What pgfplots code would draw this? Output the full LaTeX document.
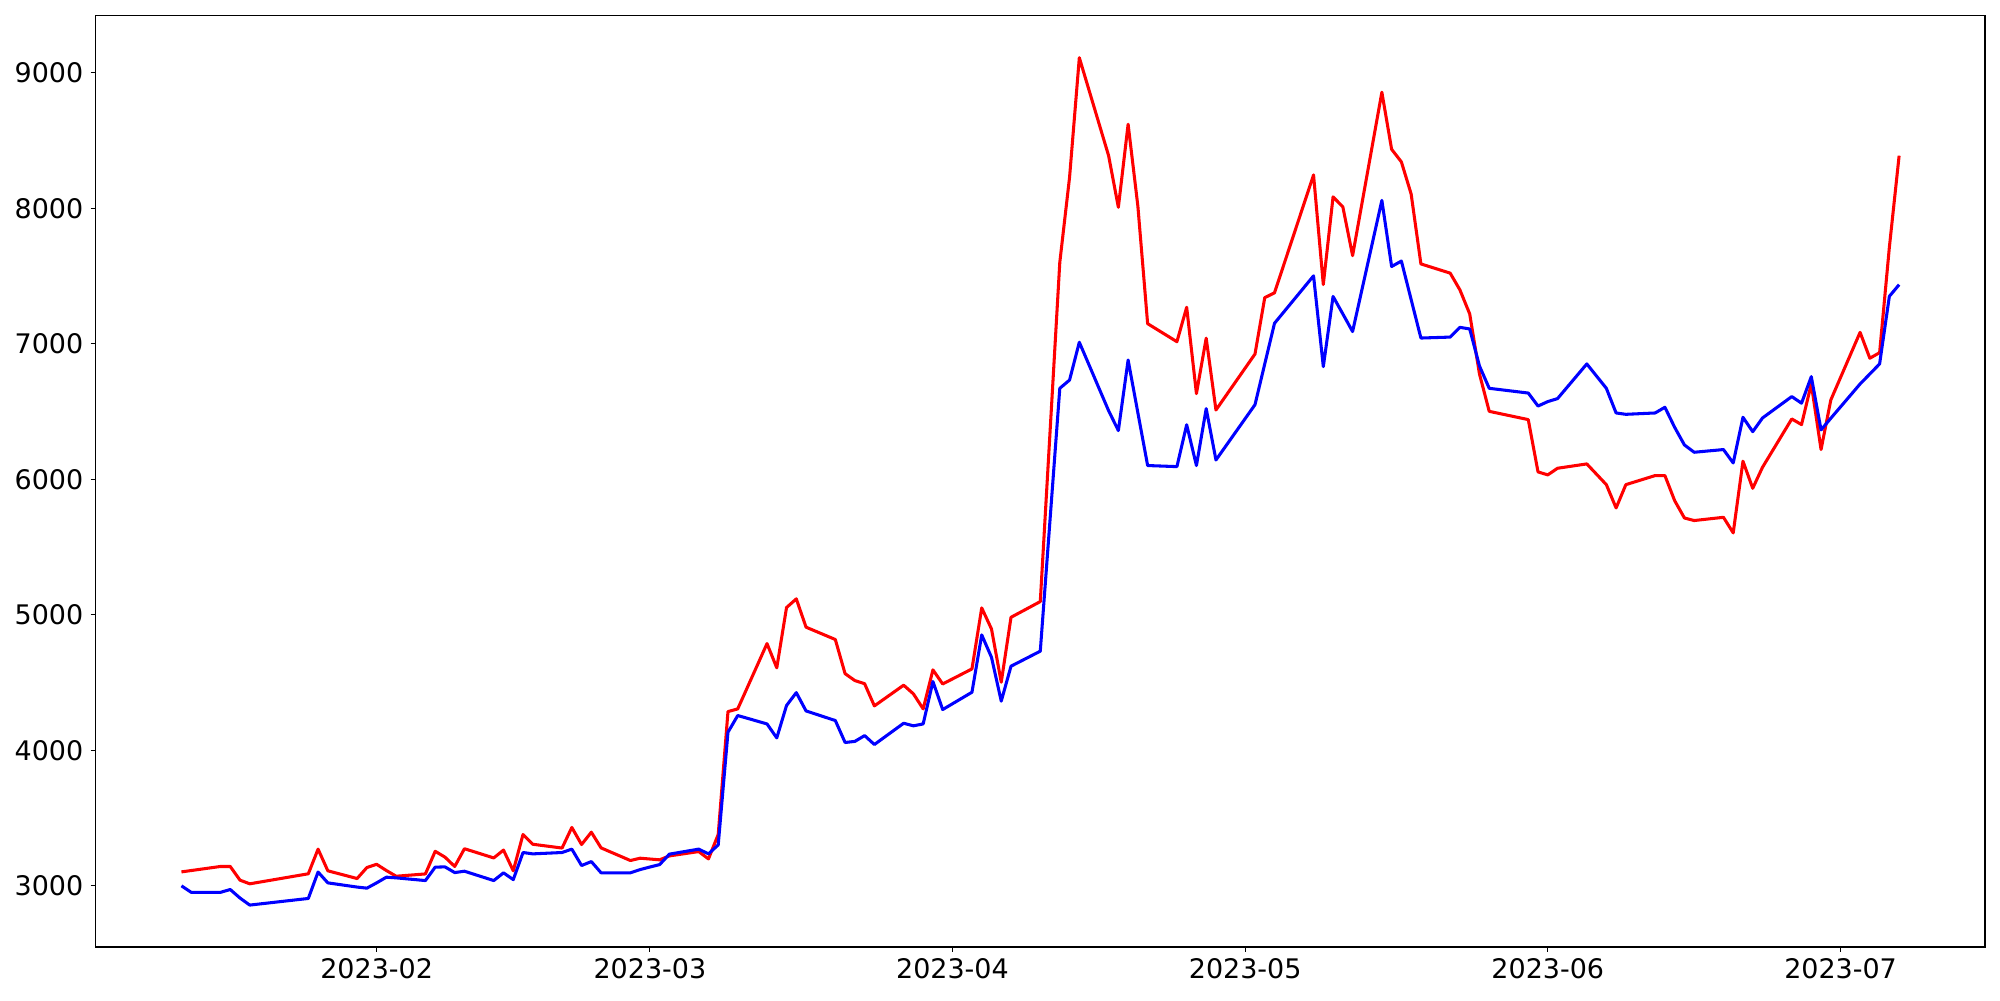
\documentclass[border=0pt]{standalone}
\usepackage{fontspec}
\setmainfont{DejaVu Sans}
\usepackage{pgfplots}
\pgfplotsset{compat=1.18}
\usepackage{pgfplotstable}

\pgfplotstableread{
t red blue
11 3102 2999
12 3112 2951
15 3142 2951
16 3142 2972
17 3041 2909
18 3014 2857
24 3088 2906
25 3270 3101
26 3110 3021
29 3053 2990
30 3134 2982
31 3158 3021
32 3112 3063
33 3070 3058
36 3087 3038
37 3254 3137
38 3211 3139
39 3142 3097
40 3273 3107
43 3205 3038
44 3263 3095
45 3110 3045
46 3378 3245
47 3306 3235
50 3278 3245
51 3430 3270
52 3304 3149
53 3395 3178
54 3279 3095
57 3186 3095
58 3203 3119
59 3197 3138
60 3191 3156
61 3220 3233
64 3252 3270
65 3198 3235
66 3378 3301
67 4285 4133
68 4305 4256
71 4787 4194
72 4608 4091
73 5053 4330
74 5117 4425
75 4908 4290
78 4817 4219
79 4565 4057
80 4514 4065
81 4491 4108
82 4327 4042
85 4480 4199
86 4416 4180
87 4305 4194
88 4593 4507
89 4489 4300
92 4600 4428
93 5050 4851
94 4895 4686
95 4502 4362
96 4981 4620
99 5097 4731
101 7601 6671
102 8228 6732
103 9111 7011
106 8388 6506
107 8007 6359
108 8620 6880
109 8015 6490
110 7148 6101
113 7015 6093
114 7269 6402
115 6632 6101
116 7041 6521
117 6511 6142
121 6924 6550
122 7340 6851
123 7376 7151
127 8246 7501
128 7437 6831
129 8084 7349
130 8010 7220
131 7650 7090
134 8856 8058
135 8435 7570
136 8342 7610
137 8105 7326
138 7589 7042
141 7521 7049
142 7397 7121
143 7220 7109
144 6777 6836
145 6501 6671
149 6440 6636
150 6054 6540
151 6032 6573
152 6081 6595
155 6113 6851
157 5960 6671
158 5788 6489
159 5960 6479
162 6027 6489
163 6027 6531
164 5842 6383
165 5714 6253
166 5695 6199
169 5719 6219
170 5604 6120
171 6133 6457
172 5933 6351
173 6088 6452
176 6445 6610
177 6403 6561
178 6703 6757
179 6219 6364
180 6585 6450
183 7084 6703
184 6893 6777
185 6934 6851
186 7712 7350
187 8388 7436
}\datatable

\begin{document}
\begin{tikzpicture}
\begin{axis}[
  at={(0,0)}, anchor=south west,
  width=680.2pt, height=335.4pt, scale only axis,
  xmin=2.2, xmax=195.8, ymin=2548, ymax=9424,
  axis line style={line width=0.4pt, black},
  xtick={31,59,90,120,151,181},
  xticklabels={2023-02,2023-03,2023-04,2023-05,2023-06,2023-07},
  ytick={3000,4000,5000,6000,7000,8000,9000},
  scaled y ticks=false,
  /pgf/number format/1000 sep={},
  /pgf/number format/assume math mode=true,
  tick align=outside, major tick length=1.75pt,
  tick style={line width=0.4pt, black},
  xtick pos=bottom, ytick pos=left,
  ticklabel style={font=\fontsize{9.7pt}{11pt}\selectfont},
  xticklabel style={anchor=north, inner sep=0pt, yshift=-2.3pt},
  yticklabel style={anchor=east, inner sep=0pt, xshift=-2.5pt},
]
\addplot[red, line width=1.1pt, line join=round] table[x=t,y=red]{\datatable};
\addplot[blue, line width=1.1pt, line join=round] table[x=t,y=blue]{\datatable};
\end{axis}
\pgfresetboundingbox
\path[use as bounding box] (-34.4pt,-19.1pt) rectangle (685.6pt,340.9pt);
\end{tikzpicture}
\end{document}
